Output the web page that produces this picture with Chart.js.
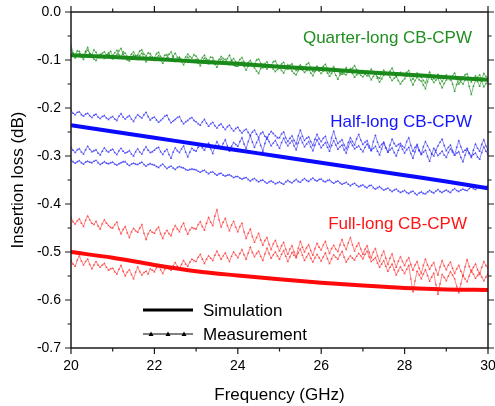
<!DOCTYPE html>
<html><head><meta charset="utf-8">
<script src="https://cdn.jsdelivr.net/npm/chart.js@4.4.0/dist/chart.umd.min.js"></script>
<style>html,body{margin:0;padding:0;background:#fff;}#wrap{position:relative;width:495px;height:406px;}</style>
</head><body><div id="wrap"><canvas id="c" width="495" height="406"></canvas></div>
<script>
// ---------- data ----------
const freq = [20.00,20.05,20.10,20.15,20.20,20.25,20.30,20.35,20.40,20.45,20.50,20.55,20.60,20.65,20.70,20.75,20.80,20.85,20.90,20.95,
21.00,21.05,21.10,21.15,21.20,21.25,21.30,21.35,21.40,21.45,21.50,21.55,21.60,21.65,21.70,21.75,21.80,21.85,21.90,21.95,
22.00,22.05,22.10,22.15,22.20,22.25,22.30,22.35,22.40,22.45,22.50,22.55,22.60,22.65,22.70,22.75,22.80,22.85,22.90,22.95,
23.00,23.05,23.10,23.15,23.20,23.25,23.30,23.35,23.40,23.45,23.50,23.55,23.60,23.65,23.70,23.75,23.80,23.85,23.90,23.95,
24.00,24.05,24.10,24.15,24.20,24.25,24.30,24.35,24.40,24.45,24.50,24.55,24.60,24.65,24.70,24.75,24.80,24.85,24.90,24.95,
25.00,25.05,25.10,25.15,25.20,25.25,25.30,25.35,25.40,25.45,25.50,25.55,25.60,25.65,25.70,25.75,25.80,25.85,25.90,25.95,
26.00,26.05,26.10,26.15,26.20,26.25,26.30,26.35,26.40,26.45,26.50,26.55,26.60,26.65,26.70,26.75,26.80,26.85,26.90,26.95,
27.00,27.05,27.10,27.15,27.20,27.25,27.30,27.35,27.40,27.45,27.50,27.55,27.60,27.65,27.70,27.75,27.80,27.85,27.90,27.95,
28.00,28.05,28.10,28.15,28.20,28.25,28.30,28.35,28.40,28.45,28.50,28.55,28.60,28.65,28.70,28.75,28.80,28.85,28.90,28.95,
29.00,29.05,29.10,29.15,29.20,29.25,29.30,29.35,29.40,29.45,29.50,29.55,29.60,29.65,29.70,29.75,29.80,29.85,29.90,29.95,30.00];

const simFreq = [20,21,22,23,24,25,26,27,28,29,30];
const simQuarter = [-0.090,-0.094,-0.098,-0.103,-0.108,-0.114,-0.119,-0.125,-0.130,-0.136,-0.141];
const simHalf    = [-0.236,-0.249,-0.262,-0.275,-0.288,-0.301,-0.314,-0.327,-0.340,-0.353,-0.367];
const simFull    = [-0.500,-0.512,-0.527,-0.540,-0.549,-0.557,-0.564,-0.570,-0.575,-0.578,-0.579];

const measQuarterA = [
-0.078,-0.087,-0.090,-0.081,-0.082,-0.091,-0.093,-0.084,-0.080,-0.086,-0.089,-0.079,-0.084,-0.092,-0.095,-0.086,-0.083,-0.090,-0.088,-0.082,
-0.091,-0.085,-0.080,-0.089,-0.094,-0.083,-0.086,-0.093,-0.097,-0.088,-0.083,-0.091,-0.090,-0.081,-0.079,-0.088,-0.092,-0.085,-0.087,-0.094,
-0.095,-0.087,-0.084,-0.093,-0.098,-0.090,-0.089,-0.097,-0.100,-0.092,-0.086,-0.095,-0.094,-0.099,-0.103,-0.094,-0.088,-0.093,-0.096,-0.089,
-0.092,-0.099,-0.104,-0.095,-0.090,-0.098,-0.101,-0.094,-0.095,-0.103,-0.108,-0.099,-0.093,-0.097,-0.099,-0.105,-0.110,-0.101,-0.097,-0.104,
-0.106,-0.099,-0.095,-0.104,-0.112,-0.105,-0.101,-0.108,-0.109,-0.100,-0.098,-0.107,-0.116,-0.108,-0.104,-0.113,-0.111,-0.104,-0.102,-0.110,
-0.115,-0.108,-0.105,-0.114,-0.119,-0.111,-0.108,-0.117,-0.122,-0.114,-0.110,-0.115,-0.117,-0.109,-0.106,-0.116,-0.124,-0.117,-0.113,-0.119,
-0.120,-0.113,-0.109,-0.118,-0.126,-0.119,-0.114,-0.122,-0.121,-0.127,-0.130,-0.121,-0.116,-0.123,-0.124,-0.117,-0.112,-0.120,-0.128,-0.124,
-0.122,-0.129,-0.133,-0.125,-0.119,-0.126,-0.129,-0.135,-0.138,-0.128,-0.121,-0.127,-0.131,-0.123,-0.117,-0.127,-0.135,-0.130,-0.126,-0.132,
-0.133,-0.126,-0.122,-0.132,-0.140,-0.133,-0.127,-0.131,-0.136,-0.143,-0.148,-0.134,-0.125,-0.133,-0.139,-0.134,-0.130,-0.138,-0.145,-0.137,
-0.131,-0.138,-0.142,-0.133,-0.127,-0.140,-0.150,-0.142,-0.136,-0.131,-0.129,-0.139,-0.146,-0.139,-0.133,-0.145,-0.155,-0.140,-0.128,-0.134,-0.138];
const measQuarterB = [
-0.070,-0.085,-0.096,-0.090,-0.087,-0.094,-0.099,-0.082,-0.074,-0.086,-0.093,-0.098,-0.101,-0.094,-0.088,-0.092,-0.097,-0.090,-0.085,-0.092,
-0.098,-0.093,-0.089,-0.081,-0.076,-0.088,-0.095,-0.100,-0.102,-0.096,-0.090,-0.094,-0.099,-0.091,-0.086,-0.096,-0.104,-0.098,-0.093,-0.098,
-0.101,-0.095,-0.091,-0.100,-0.107,-0.100,-0.095,-0.088,-0.083,-0.094,-0.103,-0.099,-0.097,-0.104,-0.110,-0.101,-0.094,-0.100,-0.105,-0.101,
-0.099,-0.106,-0.112,-0.103,-0.096,-0.103,-0.108,-0.104,-0.101,-0.109,-0.115,-0.106,-0.098,-0.102,-0.106,-0.097,-0.090,-0.101,-0.111,-0.113,
-0.113,-0.108,-0.104,-0.113,-0.121,-0.113,-0.107,-0.112,-0.116,-0.123,-0.128,-0.118,-0.109,-0.115,-0.119,-0.114,-0.112,-0.119,-0.124,-0.120,
-0.117,-0.122,-0.127,-0.118,-0.110,-0.117,-0.123,-0.128,-0.131,-0.122,-0.114,-0.121,-0.126,-0.122,-0.120,-0.127,-0.133,-0.124,-0.116,-0.123,
-0.128,-0.123,-0.119,-0.127,-0.134,-0.128,-0.122,-0.132,-0.140,-0.131,-0.125,-0.129,-0.131,-0.124,-0.118,-0.128,-0.136,-0.131,-0.127,-0.132,
-0.135,-0.129,-0.124,-0.133,-0.141,-0.134,-0.129,-0.138,-0.146,-0.139,-0.132,-0.128,-0.127,-0.136,-0.143,-0.138,-0.134,-0.143,-0.150,-0.144,
-0.139,-0.134,-0.131,-0.142,-0.152,-0.143,-0.136,-0.141,-0.144,-0.152,-0.160,-0.145,-0.133,-0.140,-0.147,-0.142,-0.138,-0.149,-0.158,-0.149,
-0.142,-0.137,-0.135,-0.150,-0.165,-0.151,-0.140,-0.146,-0.150,-0.142,-0.137,-0.155,-0.172,-0.155,-0.143,-0.136,-0.131,-0.144,-0.156,-0.149,-0.145];

const measHalfA = [
-0.205,-0.211,-0.214,-0.209,-0.208,-0.214,-0.217,-0.213,-0.211,-0.216,-0.220,-0.215,-0.213,-0.219,-0.222,-0.218,-0.216,-0.221,-0.224,-0.220,
-0.218,-0.223,-0.226,-0.217,-0.212,-0.219,-0.223,-0.219,-0.216,-0.223,-0.228,-0.220,-0.214,-0.218,-0.221,-0.214,-0.209,-0.218,-0.225,-0.221,
-0.219,-0.225,-0.230,-0.226,-0.222,-0.217,-0.215,-0.224,-0.231,-0.227,-0.224,-0.220,-0.218,-0.227,-0.233,-0.229,-0.226,-0.222,-0.220,-0.226,
-0.229,-0.233,-0.236,-0.229,-0.224,-0.232,-0.238,-0.233,-0.230,-0.237,-0.242,-0.236,-0.233,-0.240,-0.245,-0.239,-0.236,-0.243,-0.248,-0.243,
-0.240,-0.247,-0.252,-0.247,-0.244,-0.251,-0.257,-0.250,-0.246,-0.255,-0.261,-0.253,-0.250,-0.259,-0.265,-0.255,-0.249,-0.253,-0.258,-0.262,
-0.262,-0.254,-0.250,-0.262,-0.270,-0.263,-0.258,-0.268,-0.275,-0.258,-0.246,-0.259,-0.268,-0.263,-0.260,-0.270,-0.278,-0.265,-0.255,-0.264,
-0.270,-0.263,-0.259,-0.272,-0.281,-0.262,-0.248,-0.263,-0.274,-0.270,-0.266,-0.277,-0.285,-0.272,-0.262,-0.270,-0.277,-0.264,-0.255,-0.267,
-0.276,-0.271,-0.268,-0.279,-0.288,-0.270,-0.257,-0.271,-0.282,-0.276,-0.271,-0.283,-0.292,-0.277,-0.265,-0.274,-0.280,-0.276,-0.274,-0.280,
-0.283,-0.270,-0.262,-0.278,-0.290,-0.282,-0.276,-0.288,-0.296,-0.281,-0.270,-0.279,-0.287,-0.295,-0.300,-0.288,-0.279,-0.271,-0.265,-0.278,
-0.289,-0.282,-0.277,-0.289,-0.298,-0.282,-0.268,-0.281,-0.292,-0.288,-0.284,-0.295,-0.303,-0.288,-0.275,-0.284,-0.290,-0.276,-0.266,-0.279,-0.288];
const measHalfB = [
-0.282,-0.288,-0.293,-0.287,-0.285,-0.292,-0.296,-0.287,-0.280,-0.286,-0.291,-0.289,-0.287,-0.294,-0.298,-0.290,-0.283,-0.289,-0.292,-0.288,
-0.286,-0.293,-0.297,-0.289,-0.284,-0.290,-0.294,-0.292,-0.289,-0.296,-0.300,-0.291,-0.285,-0.292,-0.296,-0.287,-0.281,-0.288,-0.293,-0.291,
-0.288,-0.284,-0.282,-0.291,-0.297,-0.290,-0.286,-0.297,-0.305,-0.292,-0.283,-0.289,-0.293,-0.285,-0.279,-0.292,-0.302,-0.292,-0.284,-0.288,
-0.290,-0.282,-0.276,-0.283,-0.288,-0.279,-0.273,-0.285,-0.295,-0.281,-0.270,-0.278,-0.284,-0.274,-0.266,-0.279,-0.290,-0.280,-0.272,-0.276,
-0.280,-0.270,-0.262,-0.275,-0.285,-0.270,-0.258,-0.271,-0.282,-0.272,-0.264,-0.278,-0.290,-0.274,-0.260,-0.270,-0.279,-0.273,-0.268,-0.277,
-0.284,-0.272,-0.263,-0.272,-0.279,-0.273,-0.268,-0.279,-0.287,-0.273,-0.262,-0.272,-0.281,-0.275,-0.270,-0.281,-0.289,-0.277,-0.266,-0.275,
-0.283,-0.277,-0.272,-0.282,-0.290,-0.278,-0.268,-0.277,-0.286,-0.281,-0.277,-0.287,-0.294,-0.281,-0.270,-0.278,-0.285,-0.282,-0.279,-0.286,
-0.291,-0.282,-0.275,-0.283,-0.289,-0.284,-0.280,-0.290,-0.298,-0.285,-0.273,-0.283,-0.292,-0.287,-0.283,-0.293,-0.300,-0.288,-0.278,-0.286,
-0.294,-0.287,-0.282,-0.295,-0.305,-0.291,-0.279,-0.289,-0.297,-0.292,-0.288,-0.301,-0.311,-0.296,-0.284,-0.292,-0.299,-0.295,-0.290,-0.298,
-0.303,-0.293,-0.285,-0.292,-0.298,-0.294,-0.291,-0.303,-0.312,-0.298,-0.287,-0.294,-0.300,-0.297,-0.294,-0.302,-0.307,-0.293,-0.281,-0.290,-0.297];
const measHalfC = [
-0.308,-0.312,-0.315,-0.312,-0.310,-0.314,-0.317,-0.313,-0.311,-0.313,-0.314,-0.311,-0.309,-0.314,-0.318,-0.315,-0.312,-0.315,-0.316,-0.314,
-0.313,-0.317,-0.319,-0.316,-0.314,-0.312,-0.312,-0.317,-0.320,-0.317,-0.315,-0.317,-0.318,-0.315,-0.313,-0.318,-0.321,-0.318,-0.316,-0.318,
-0.319,-0.322,-0.324,-0.320,-0.317,-0.322,-0.326,-0.323,-0.321,-0.325,-0.328,-0.324,-0.322,-0.324,-0.325,-0.328,-0.330,-0.328,-0.327,-0.328,
-0.329,-0.332,-0.334,-0.331,-0.330,-0.334,-0.337,-0.334,-0.333,-0.337,-0.340,-0.337,-0.336,-0.340,-0.342,-0.340,-0.339,-0.342,-0.345,-0.343,
-0.343,-0.346,-0.348,-0.346,-0.345,-0.349,-0.352,-0.349,-0.347,-0.351,-0.354,-0.351,-0.350,-0.354,-0.357,-0.354,-0.352,-0.355,-0.358,-0.356,
-0.354,-0.357,-0.359,-0.354,-0.351,-0.354,-0.356,-0.352,-0.349,-0.353,-0.355,-0.350,-0.347,-0.351,-0.353,-0.349,-0.346,-0.350,-0.352,-0.349,
-0.348,-0.352,-0.354,-0.351,-0.350,-0.354,-0.357,-0.354,-0.352,-0.356,-0.359,-0.357,-0.355,-0.359,-0.362,-0.359,-0.357,-0.361,-0.364,-0.362,
-0.360,-0.364,-0.366,-0.362,-0.361,-0.366,-0.369,-0.366,-0.364,-0.368,-0.371,-0.369,-0.367,-0.371,-0.374,-0.371,-0.369,-0.373,-0.376,-0.374,
-0.372,-0.376,-0.378,-0.375,-0.373,-0.378,-0.381,-0.377,-0.375,-0.378,-0.379,-0.375,-0.372,-0.375,-0.377,-0.373,-0.370,-0.374,-0.376,-0.373,
-0.371,-0.374,-0.376,-0.371,-0.368,-0.372,-0.374,-0.371,-0.369,-0.371,-0.372,-0.368,-0.365,-0.368,-0.370,-0.366,-0.363,-0.366,-0.367,-0.364,-0.361];

const measFullA = [
-0.428,-0.437,-0.442,-0.435,-0.431,-0.440,-0.447,-0.434,-0.425,-0.433,-0.440,-0.443,-0.436,-0.446,-0.452,-0.441,-0.433,-0.440,-0.445,-0.449,
-0.450,-0.443,-0.438,-0.452,-0.462,-0.453,-0.447,-0.460,-0.470,-0.458,-0.451,-0.456,-0.459,-0.450,-0.443,-0.461,-0.474,-0.462,-0.455,-0.459,
-0.461,-0.453,-0.448,-0.462,-0.472,-0.461,-0.455,-0.462,-0.466,-0.453,-0.445,-0.452,-0.458,-0.447,-0.440,-0.453,-0.463,-0.454,-0.449,-0.451,
-0.452,-0.443,-0.437,-0.447,-0.455,-0.440,-0.428,-0.438,-0.445,-0.425,-0.412,-0.433,-0.448,-0.438,-0.430,-0.445,-0.456,-0.444,-0.436,-0.448,
-0.458,-0.447,-0.440,-0.458,-0.472,-0.461,-0.452,-0.468,-0.480,-0.470,-0.461,-0.475,-0.486,-0.476,-0.470,-0.484,-0.495,-0.483,-0.476,-0.488,
-0.498,-0.487,-0.480,-0.494,-0.505,-0.494,-0.487,-0.500,-0.510,-0.492,-0.478,-0.490,-0.500,-0.491,-0.485,-0.497,-0.507,-0.493,-0.482,-0.490,
-0.496,-0.485,-0.478,-0.492,-0.503,-0.493,-0.486,-0.494,-0.499,-0.485,-0.474,-0.486,-0.495,-0.481,-0.470,-0.485,-0.498,-0.488,-0.481,-0.494,
-0.505,-0.494,-0.487,-0.501,-0.512,-0.500,-0.493,-0.508,-0.520,-0.507,-0.498,-0.513,-0.526,-0.513,-0.504,-0.519,-0.532,-0.519,-0.510,-0.520,
-0.528,-0.518,-0.512,-0.526,-0.538,-0.527,-0.520,-0.534,-0.545,-0.528,-0.515,-0.527,-0.536,-0.528,-0.522,-0.537,-0.548,-0.531,-0.518,-0.529,
-0.537,-0.527,-0.521,-0.534,-0.545,-0.535,-0.528,-0.540,-0.550,-0.531,-0.516,-0.530,-0.542,-0.532,-0.525,-0.537,-0.547,-0.532,-0.520,-0.528,-0.534];
const measFullB = [
-0.518,-0.525,-0.530,-0.517,-0.508,-0.519,-0.527,-0.520,-0.515,-0.526,-0.535,-0.527,-0.520,-0.527,-0.532,-0.527,-0.524,-0.532,-0.538,-0.535,
-0.534,-0.541,-0.546,-0.536,-0.528,-0.540,-0.550,-0.542,-0.537,-0.547,-0.556,-0.542,-0.531,-0.541,-0.548,-0.543,-0.540,-0.546,-0.535,-0.538,
-0.541,-0.533,-0.527,-0.537,-0.545,-0.536,-0.530,-0.535,-0.538,-0.529,-0.522,-0.530,-0.536,-0.526,-0.518,-0.525,-0.530,-0.521,-0.515,-0.518,
-0.520,-0.511,-0.505,-0.515,-0.524,-0.515,-0.508,-0.513,-0.518,-0.507,-0.498,-0.507,-0.515,-0.508,-0.502,-0.512,-0.520,-0.509,-0.500,-0.506,
-0.512,-0.503,-0.495,-0.506,-0.515,-0.502,-0.490,-0.501,-0.510,-0.503,-0.498,-0.509,-0.518,-0.504,-0.492,-0.503,-0.513,-0.506,-0.500,-0.508,
-0.515,-0.505,-0.497,-0.509,-0.520,-0.510,-0.501,-0.507,-0.512,-0.502,-0.494,-0.507,-0.518,-0.510,-0.503,-0.513,-0.521,-0.512,-0.505,-0.512,
-0.519,-0.510,-0.502,-0.514,-0.524,-0.514,-0.506,-0.511,-0.515,-0.506,-0.499,-0.511,-0.521,-0.514,-0.508,-0.513,-0.517,-0.509,-0.503,-0.508,
-0.514,-0.505,-0.498,-0.510,-0.520,-0.516,-0.512,-0.523,-0.532,-0.525,-0.518,-0.530,-0.540,-0.532,-0.525,-0.537,-0.548,-0.539,-0.531,-0.538,
-0.545,-0.536,-0.528,-0.556,-0.583,-0.560,-0.540,-0.548,-0.556,-0.546,-0.537,-0.549,-0.561,-0.552,-0.544,-0.568,-0.588,-0.566,-0.547,-0.553,
-0.560,-0.550,-0.541,-0.548,-0.556,-0.572,-0.585,-0.566,-0.549,-0.556,-0.562,-0.550,-0.538,-0.546,-0.555,-0.549,-0.543,-0.552,-0.560,-0.552,-0.545];

const xMajorTicks = [20,22,24,26,28,30];
const xMinorTicks = [21,23,25,27,29];
const yMajorTicks = [0,-0.1,-0.2,-0.3,-0.4,-0.5,-0.6,-0.7];
const yMinorTicks = [-0.05,-0.15,-0.25,-0.35,-0.45,-0.55,-0.65];
const seriesLabels = ['Quarter-long CB-CPW','Half-long CB-CPW','Full-long CB-CPW'];
const legendLabels = ['Simulation','Measurement'];

// ---------- build ----------
const COL = {
  gSim:'#1a8a1a', gMeas:'rgba(40,150,40,0.8)',
  bSim:'#0a0aff', bMeas:'rgba(50,50,245,0.75)',
  rSim:'#ff0a0a', rMeas:'rgba(255,50,50,0.75)'
};
const pts = (xs, ys) => xs.map((x,i)=>({x, y: ys[i]}));
const meas = (ys, c) => ({data: pts(freq, ys), borderColor:c, backgroundColor:c, borderWidth:0.8,
  pointStyle:'triangle', pointRadius:1.4, pointBorderWidth:0, tension:0, order:2});
const sim = (ys, c) => ({data: pts(simFreq, ys), borderColor:c, borderWidth:4, pointRadius:0,
  cubicInterpolationMode:'monotone', order:1});

const FONT = '"Liberation Sans", Arial, sans-serif';

const decorPlugin = {
  id:'decor',
  afterDraw(chart){
    const {ctx, chartArea:a, scales:{x, y}} = chart;
    ctx.save();
    ctx.strokeStyle = '#1a1a1a';
    ctx.lineWidth = 1.5;
    ctx.strokeRect(a.left, a.top, a.right - a.left, a.bottom - a.top);
    ctx.lineWidth = 1.2;
    ctx.beginPath();
    const tick = (list, len) => {
      list.forEach(v => {
        const px = x.getPixelForValue(v);
        ctx.moveTo(px, a.bottom); ctx.lineTo(px, a.bottom + len);
        ctx.moveTo(px, a.top); ctx.lineTo(px, a.top - len);
      });
    };
    const tickY = (list, len) => {
      list.forEach(v => {
        const py = y.getPixelForValue(v);
        ctx.moveTo(a.left, py); ctx.lineTo(a.left - len, py);
        ctx.moveTo(a.right, py); ctx.lineTo(a.right + len, py);
      });
    };
    tick(xMajorTicks, 6); tick(xMinorTicks, 3.5);
    tickY(yMajorTicks, 6); tickY(yMinorTicks, 3.5);
    ctx.stroke();

    // series labels
    ctx.font = '17px ' + FONT;
    ctx.textAlign = 'right';
    ctx.textBaseline = 'middle';
    ctx.fillStyle = '#1f8f1f'; ctx.fillText(seriesLabels[0], a.right - 16, a.top + 26);
    ctx.fillStyle = '#1414ff'; ctx.fillText(seriesLabels[1], a.right - 16, a.top + 110);
    ctx.fillStyle = '#ff1414'; ctx.fillText(seriesLabels[2], a.right - 21, a.top + 212);

    // legend
    const lx0 = a.left + 72, lx1 = a.left + 122, ly0 = a.top + 298, ly1 = a.top + 322;
    ctx.strokeStyle = '#000';
    ctx.lineWidth = 3.2;
    ctx.beginPath(); ctx.moveTo(lx0, ly0); ctx.lineTo(lx1, ly0); ctx.stroke();
    ctx.lineWidth = 1;
    ctx.beginPath(); ctx.moveTo(lx0, ly1); ctx.lineTo(lx1, ly1); ctx.stroke();
    ctx.fillStyle = '#000';
    [lx0 + 8, lx0 + 25, lx0 + 41].forEach(px => {
      ctx.beginPath(); ctx.moveTo(px, ly1 - 2.5); ctx.lineTo(px + 2.5, ly1 + 2); ctx.lineTo(px - 2.5, ly1 + 2); ctx.closePath(); ctx.fill();
    });
    ctx.textAlign = 'left';
    ctx.font = '17px ' + FONT;
    ctx.fillText(legendLabels[0], lx1 + 10, ly0 + 1);
    ctx.fillText(legendLabels[1], lx1 + 10, ly1 + 1);
    ctx.restore();
  }
};

new Chart(document.getElementById('c'), {
  type:'line',
  data:{ datasets:[
    sim(simQuarter, COL.gSim), sim(simHalf, COL.bSim), sim(simFull, COL.rSim),
    meas(measQuarterA, COL.gMeas), meas(measQuarterB, COL.gMeas),
    meas(measHalfA, COL.bMeas), meas(measHalfB, COL.bMeas), meas(measHalfC, COL.bMeas),
    meas(measFullA, COL.rMeas), meas(measFullB, COL.rMeas)
  ]},
  options:{
    responsive:false, animation:false, devicePixelRatio:1,
    layout:{padding:{top:12, right:7, left:0, bottom:0}},
    plugins:{legend:{display:false}, tooltip:{enabled:false}},
    scales:{
      x:{type:'linear', min:20, max:30,
        afterBuildTicks: s => { s.ticks = xMajorTicks.map(v => ({value:v})); },
        afterFit: s => { s.height = 58; s.paddingLeft = 0; s.paddingRight = 0; },
        grid:{display:true, drawOnChartArea:false, drawTicks:false},
        border:{display:false},
        ticks:{color:'#000', font:{size:14, family:FONT}, padding:10, maxRotation:0,
          callback: v => String(v)},
        title:{display:true, text:'Frequency (GHz)', color:'#000', font:{size:17, family:FONT}, padding:{top:0,bottom:0}}
      },
      y:{type:'linear', min:-0.7, max:0,
        afterBuildTicks: s => { s.ticks = yMajorTicks.map(v => ({value:v})); },
        afterFit: s => { s.width = 71; s.paddingTop = 0; s.paddingBottom = 0; },
        grid:{display:true, drawOnChartArea:false, drawTicks:false},
        border:{display:false},
        ticks:{color:'#000', font:{size:14, family:FONT}, padding:10,
          callback: v => (Math.abs(v) < 1e-9 ? 0 : v).toFixed(1)},
        title:{display:true, text:'Insertion loss (dB)', color:'#000', font:{size:17, family:FONT}, padding:{top:8,bottom:0}}
      }
    }
  },
  plugins:[decorPlugin]
});
</script></body></html>
